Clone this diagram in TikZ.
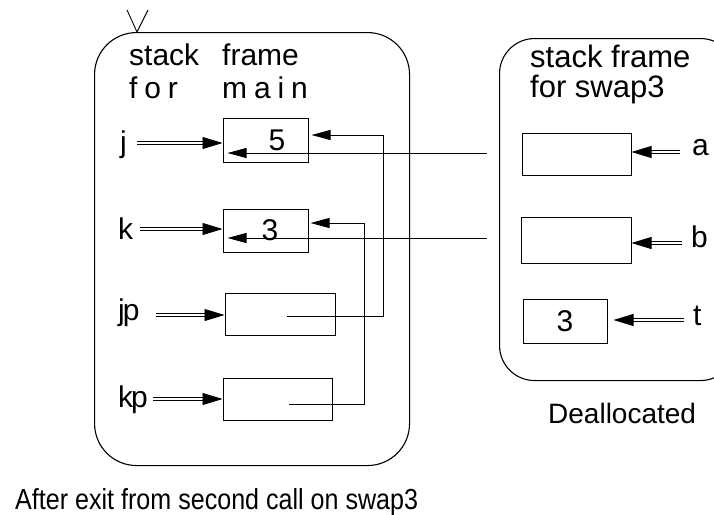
\documentclass[tikz,border=0pt]{standalone}
\usepackage{fontspec}
\setmainfont{Liberation Sans}
\newfontfamily\narrowsans[FakeStretch=0.865]{Liberation Sans}
\usetikzlibrary{arrows.meta,calc}

\begin{document}
\begin{tikzpicture}[x=1pt,y=-1pt,
  frame/.style={draw, line width=1.1pt, inner sep=0pt, anchor=north west},
  cell/.style={draw, line width=1pt, inner sep=0pt, font=\fontsize{30}{32}\selectfont},
  lab/.style={inner sep=0pt, anchor=base west, font=\fontsize{30}{32}\selectfont},
  hdr/.style={inner sep=0pt, anchor=base west, font=\fontsize{30}{32}\selectfont},
  ptr/.style={line width=1pt, -{Triangle[length=19pt,width=10pt]}},
  dbl/.style={double, double distance=2pt, line width=0.8pt, -{Triangle[length=20pt,width=12pt]}},
]
\useasboundingbox (0,0) rectangle (714,514);
\clip (0,0) rectangle (714,514);

% stack frames
\node[frame, rounded corners=42pt, minimum width=315pt, minimum height=433pt] (mainframe) at (94,32) {};
\node[frame, rounded corners=35pt, minimum width=236pt, minimum height=342pt] (swapframe) at (499,38) {};
\draw[line width=0.9pt] (127,10) -- (137,32) -- (148,10);

% frame headings
\node[hdr] (mainhdra) at (129,65) {\makebox[93pt][l]{stack}frame};
\node[hdr] (mainhdrb) at (129,98) {\addfontfeature{LetterSpace=23}\makebox[93pt][l]{for}main};
\node[hdr, font=\fontsize{31}{32}\selectfont] (swaphdra) at (530,67) {stack frame};
\node[hdr, font=\fontsize{31}{32}\selectfont] (swaphdrb) at (530,97) {for swap3};

% memory cells of main
\node[cell, minimum width=85pt, minimum height=44pt] (j) at (265.5,140) {\hspace*{23pt}5};
\node[cell, minimum width=85pt, minimum height=43pt] (k) at (265.5,230.5) {\hspace*{9pt}3};
\node[cell, minimum width=110pt, minimum height=42pt] (jp) at (280,314) {};
\node[cell, minimum width=109pt, minimum height=42pt] (kp) at (277.5,399) {};

% memory cells of swap3
\node[cell, minimum width=109pt, minimum height=42pt] (a) at (576.5,154) {};
\node[cell, minimum width=110pt, minimum height=46pt] (b) at (576,240) {};
\node[cell, minimum width=84pt, minimum height=44pt] (t) at (565,321) {3};

% variable names
\node[lab] (jl) at (120,152) {j};
\node[lab] (kl) at (118,239) {k};
\node[lab] (jpl) at (118,320) {j\kern-2pt p};
\node[lab] (kpl) at (118,407) {k\kern-2pt p};
\node[lab] (al) at (692,155) {a};
\node[lab] (bl) at (691,247) {b};
\node[lab] (tl) at (693,325) {t};

% name-to-cell arrows
\coordinate (js) at (137,143);
\coordinate (ks) at (140,229);
\coordinate (jps) at (156,315);
\coordinate (kps) at (153,399);
\coordinate (as) at (680,152);
\coordinate (bs) at (682,243);
\coordinate (ts) at (684,320);
\draw[dbl] (js) -- (js -| j.west);
\draw[dbl] (ks) -- (ks -| k.west);
\draw[dbl] (jps) -- (jps -| jp.west);
\draw[dbl] (kps) -- (kps -| kp.west);
\draw[dbl] (as) -- (as -| a.east);
\draw[dbl] (bs) -- (bs -| b.east);
\draw[dbl] (ts) -- ($(ts -| t.east)+(6,0)$);

% pointer values
\coordinate (jpp) at (287,316);
\coordinate (kpp) at (289,404);
\coordinate (olda) at (487,153);
\coordinate (oldb) at (487,238);
\draw[ptr] (jpp) -| ($(j.east)+(75,-5)$) -- ($(j.east)+(3,-5)$);
\draw[ptr] (kpp) -| ($(k.east)+(56,-7.5)$) -- ($(k.east)+(2,-7.5)$);
\draw[ptr] (olda) -- ($(j.west |- olda)+(5,0)$);
\draw[ptr] (oldb) -- ($(k.west |- oldb)+(5,0)$);

% captions
\node[hdr, font=\fontsize{28}{30}\selectfont] (dealloc) at (548,423) {Deallocated};
\node[hdr, font=\narrowsans\fontsize{29}{31}\selectfont] (caption) at (15,509) {After exit from second call on swap3};
\end{tikzpicture}
\end{document}
